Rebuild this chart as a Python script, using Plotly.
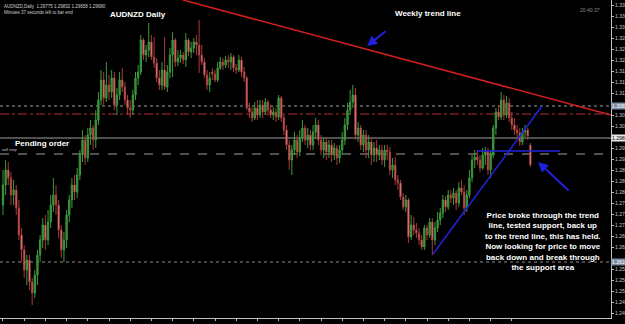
import plotly.graph_objects as go

bar_index = list(range(200))

opens = [1.2785,1.2845,1.2890,1.2866,1.2815,1.2830,1.2776,1.2695,1.2650,1.2590,
1.2620,1.2554,1.2521,1.2575,1.2635,1.2680,1.2725,1.2680,1.2734,1.2785,
1.2815,1.2785,1.2710,1.2650,1.2680,1.2755,1.2800,1.2845,1.2824,1.2875,
1.2935,1.2980,1.2926,1.2995,1.3016,1.2980,1.3040,1.3100,1.3160,1.3106,
1.3145,1.3124,1.3166,1.3085,1.3115,1.3160,1.3139,1.3100,1.3076,1.3070,
1.3115,1.3166,1.3184,1.3280,1.3235,1.3250,1.3274,1.3229,1.3211,1.3166,
1.3145,1.3190,1.3139,1.3184,1.3235,1.3280,1.3214,1.3226,1.3235,1.3220,
1.3280,1.3244,1.3256,1.3274,1.3265,1.3235,1.3214,1.3175,1.3145,1.3184,
1.3178,1.3160,1.3196,1.3214,1.3205,1.3220,1.3214,1.3229,1.3196,1.3190,
1.3220,1.3184,1.3166,1.3076,1.3064,1.3046,1.3076,1.3055,1.3085,1.3064,
1.3094,1.3070,1.3055,1.3064,1.3049,1.3106,1.3046,1.3010,1.2965,1.2920,
1.2950,1.2980,1.2944,1.2986,1.3016,1.2980,1.2995,1.2965,1.3004,1.3025,
1.2980,1.2950,1.2974,1.2944,1.2965,1.2935,1.2956,1.2926,1.2950,1.2980,
1.3025,1.3070,1.3094,1.3115,1.2995,1.3016,1.2965,1.2995,1.2950,1.2974,
1.2935,1.2956,1.2935,1.2950,1.2920,1.2950,1.2944,1.2890,1.2905,1.2860,
1.2851,1.2809,1.2779,1.2800,1.2689,1.2725,1.2710,1.2701,1.2680,1.2659,
1.2716,1.2695,1.2734,1.2680,1.2716,1.2740,1.2761,1.2800,1.2779,1.2815,
1.2806,1.2821,1.2791,1.2836,1.2824,1.2776,1.2815,1.2866,1.2920,1.2929,
1.2920,1.2896,1.2935,1.2944,1.2890,1.2935,1.3016,1.3064,1.3049,1.3100,
1.3055,1.3091,1.3046,1.3025,1.3010,1.3001,1.2974,1.3004,1.3010,1.2965]

highs = [1.2890,1.2920,1.2914,1.2884,1.2860,1.2845,1.2800,1.2716,1.2665,1.2635,
1.2635,1.2566,1.2590,1.2650,1.2695,1.2746,1.2755,1.2770,1.2815,1.2866,
1.2845,1.2800,1.2725,1.2704,1.2770,1.2815,1.2866,1.2875,1.2896,1.2950,
1.3010,1.2995,1.3016,1.3040,1.3025,1.3070,1.3124,1.3190,1.3184,1.3214,
1.3175,1.3190,1.3184,1.3136,1.3184,1.3196,1.3154,1.3115,1.3100,1.3130,
1.3184,1.3205,1.3295,1.3286,1.3265,1.3331,1.3295,1.3289,1.3226,1.3190,
1.3214,1.3289,1.3205,1.3256,1.3304,1.3286,1.3250,1.3250,1.3244,1.3301,
1.3286,1.3274,1.3286,1.3295,1.3340,1.3265,1.3226,1.3190,1.3184,1.3196,
1.3190,1.3214,1.3229,1.3226,1.3232,1.3235,1.3241,1.3235,1.3208,1.3235,
1.3229,1.3199,1.3172,1.3091,1.3079,1.3094,1.3100,1.3100,1.3100,1.3106,
1.3100,1.3085,1.3079,1.3076,1.3115,1.3112,1.3055,1.3025,1.2980,1.2965,
1.3004,1.2995,1.3010,1.3040,1.3025,1.3016,1.3010,1.3025,1.3046,1.3040,
1.2995,1.2986,1.2986,1.2980,1.2980,1.2971,1.2965,1.2965,1.3004,1.3046,
1.3091,1.3130,1.3145,1.3136,1.3034,1.3025,1.3010,1.3010,1.2995,1.2986,
1.2974,1.2980,1.2965,1.2965,1.2965,1.2965,1.2959,1.2926,1.2929,1.2875,
1.2860,1.2821,1.2815,1.2806,1.2755,1.2749,1.2731,1.2716,1.2695,1.2725,
1.2725,1.2746,1.2746,1.2734,1.2764,1.2776,1.2815,1.2812,1.2830,1.2830,
1.2836,1.2830,1.2854,1.2860,1.2845,1.2830,1.2890,1.2935,1.2950,1.2950,
1.2935,1.2956,1.2959,1.2956,1.2950,1.3025,1.3076,1.3085,1.3124,1.3115,
1.3112,1.3106,1.3064,1.3046,1.3025,1.3016,1.3016,1.3025,1.3016,1.2971]

lows = [1.2755,1.2815,1.2845,1.2785,1.2785,1.2755,1.2680,1.2614,1.2566,1.2545,
1.2530,1.2485,1.2506,1.2545,1.2614,1.2656,1.2650,1.2665,1.2716,1.2764,
1.2755,1.2686,1.2626,1.2614,1.2656,1.2734,1.2776,1.2800,1.2806,1.2860,
1.2914,1.2905,1.2914,1.2965,1.2950,1.2956,1.3025,1.3085,1.3085,1.3094,
1.3100,1.3106,1.3070,1.3055,1.3100,1.3124,1.3085,1.3055,1.3046,1.3055,
1.3100,1.3145,1.3175,1.3220,1.3214,1.3229,1.3220,1.3196,1.3154,1.3130,
1.3130,1.3130,1.3124,1.3166,1.3169,1.3199,1.3202,1.3211,1.3208,1.3199,
1.3232,1.3226,1.3241,1.3235,1.3181,1.3205,1.3166,1.3130,1.3124,1.3160,
1.3154,1.3154,1.3190,1.3190,1.3196,1.3196,1.3190,1.3184,1.3178,1.3184,
1.3169,1.3154,1.3070,1.3046,1.3034,1.3040,1.3040,1.3046,1.3046,1.3055,
1.3052,1.3046,1.3040,1.3034,1.3040,1.3034,1.2995,1.2950,1.2890,1.2875,
1.2935,1.2926,1.2932,1.2974,1.2965,1.2956,1.2950,1.2950,1.2986,1.2965,
1.2935,1.2926,1.2920,1.2926,1.2914,1.2920,1.2905,1.2911,1.2935,1.2965,
1.3010,1.3055,1.3076,1.2980,1.2974,1.2950,1.2944,1.2926,1.2926,1.2905,
1.2914,1.2914,1.2920,1.2905,1.2899,1.2920,1.2875,1.2866,1.2845,1.2830,
1.2800,1.2770,1.2764,1.2671,1.2680,1.2695,1.2686,1.2665,1.2650,1.2650,
1.2680,1.2686,1.2635,1.2665,1.2704,1.2725,1.2746,1.2764,1.2770,1.2791,
1.2785,1.2770,1.2779,1.2815,1.2755,1.2764,1.2806,1.2854,1.2896,1.2905,
1.2884,1.2890,1.2905,1.2875,1.2866,1.2926,1.2995,1.3040,1.3040,1.3040,
1.3046,1.3034,1.3010,1.2995,1.2980,1.2962,1.2965,1.2989,1.2980,1.2899]

closes = [1.2845,1.2890,1.2866,1.2815,1.2830,1.2776,1.2695,1.2650,1.2590,1.2620,
1.2554,1.2521,1.2575,1.2635,1.2680,1.2725,1.2680,1.2734,1.2785,1.2815,
1.2785,1.2710,1.2650,1.2680,1.2755,1.2800,1.2845,1.2824,1.2875,1.2935,
1.2980,1.2926,1.2995,1.3016,1.2980,1.3040,1.3100,1.3160,1.3106,1.3145,
1.3124,1.3166,1.3085,1.3115,1.3160,1.3139,1.3100,1.3076,1.3070,1.3115,
1.3166,1.3184,1.3280,1.3235,1.3250,1.3274,1.3229,1.3211,1.3166,1.3145,
1.3190,1.3139,1.3184,1.3235,1.3280,1.3214,1.3226,1.3235,1.3220,1.3280,
1.3244,1.3256,1.3274,1.3265,1.3235,1.3214,1.3175,1.3145,1.3166,1.3178,
1.3160,1.3196,1.3214,1.3205,1.3220,1.3214,1.3229,1.3196,1.3190,1.3220,
1.3184,1.3166,1.3076,1.3064,1.3046,1.3076,1.3055,1.3085,1.3064,1.3094,
1.3070,1.3055,1.3064,1.3049,1.3106,1.3046,1.3010,1.2965,1.2920,1.2950,
1.2980,1.2944,1.2986,1.3016,1.2980,1.2995,1.2965,1.3004,1.3025,1.2980,
1.2950,1.2974,1.2944,1.2965,1.2935,1.2956,1.2926,1.2950,1.2980,1.3025,
1.3070,1.3094,1.3115,1.2995,1.3016,1.2965,1.2995,1.2950,1.2974,1.2935,
1.2956,1.2935,1.2950,1.2920,1.2950,1.2944,1.2890,1.2905,1.2860,1.2851,
1.2809,1.2779,1.2800,1.2689,1.2725,1.2710,1.2701,1.2680,1.2659,1.2716,
1.2695,1.2734,1.2680,1.2716,1.2740,1.2761,1.2800,1.2779,1.2815,1.2806,
1.2821,1.2791,1.2836,1.2824,1.2776,1.2815,1.2866,1.2920,1.2929,1.2920,
1.2896,1.2935,1.2944,1.2890,1.2935,1.3016,1.3064,1.3049,1.3100,1.3055,
1.3091,1.3046,1.3025,1.3010,1.3001,1.2974,1.3004,1.3010,1.2992,1.2905]

date_tick_index = [0, 8, 16, 24, 32, 40, 48, 56, 64, 72, 80, 88, 96, 104, 112, 120,
                   128, 136, 144, 152, 160, 168, 176, 184, 192]
date_tick_labels = ["2 Sep 2011", "14 Sep 2011", "26 Sep 2011", "6 Oct 2011", "18 Oct 2011",
                    "28 Oct 2011", "9 Nov 2011", "21 Nov 2011", "1 Dec 2011", "13 Dec 2011",
                    "23 Dec 2011", "4 Jan 2012", "16 Jan 2012", "26 Jan 2012", "7 Feb 2012",
                    "17 Feb 2012", "29 Feb 2012", "12 Mar 2012", "22 Mar 2012", "3 Apr 2012",
                    "13 Apr 2012", "25 Apr 2012", "7 May 2012", "17 May 2012", "29 May 2012"]

price_ticks = [1.3385, 1.3352, 1.3319, 1.3286, 1.3253, 1.3220, 1.3187, 1.3154, 1.3121,
               1.3055, 1.3022, 1.2956, 1.2923, 1.2890, 1.2857, 1.2824, 1.2791, 1.2758,
               1.2725, 1.2692, 1.2659, 1.2593, 1.2560, 1.2527, 1.2494, 1.2461]

# chart objects (time index, price)
weekly_trend = [(67.9, 1.3400), (229.4, 1.3055)]
support_trend = [(162.3, 1.2638), (203.4, 1.3082)]
support_level = [(178.9, 1.2947), (210.2, 1.2947)]
level_dotted_top = 1.3082
level_red = 1.3058
level_pending = 1.2986
level_sellstop = 1.2938
level_dotted_low = 1.2614

x_range = [-1.13, 229.43]
y_range = [1.2446, 1.3400]

fig = go.Figure()
fig.add_trace(go.Candlestick(
    x=bar_index, open=opens, high=highs, low=lows, close=closes,
    increasing=dict(line=dict(color="#3c9a3c", width=1), fillcolor="#2f8a2f"),
    decreasing=dict(line=dict(color="#a83838", width=1), fillcolor="#f4cccc"),
    whiskerwidth=0, showlegend=False, hoverinfo="skip"))

shapes = []
def hline(y, color, dash, width=1):
    shapes.append(dict(type="line", xref="paper", x0=0, x1=1, yref="y", y0=y, y1=y,
                       line=dict(color=color, width=width, dash=dash), layer="below"))
hline(level_dotted_top, "#9a9a9a", "dot")
hline(level_red, "#b03030", "dashdot")
hline(level_pending, "#a0a0a0", "solid")
hline(level_sellstop, "#a0a0a0", "dash")
hline(level_dotted_low, "#8a8a8a", "dot")

for pts, col, w in [(weekly_trend, "#d21f1f", 1.5), (support_trend, "#2222dd", 1.5),
                    (support_level, "#2222dd", 1.5)]:
    shapes.append(dict(type="line", xref="x", yref="y", x0=pts[0][0], y0=pts[0][1],
                       x1=pts[1][0], y1=pts[1][1], line=dict(color=col, width=w)))

font_b = dict(family="Liberation Sans, Arial", size=8, color="white")
annotations = [
    dict(x=39.6, y=1.3356, xref="x", yref="y", text="<b>AUDNZD Daily</b>", showarrow=False,
         xanchor="left", yanchor="middle", font=font_b),
    dict(x=147.2, y=1.3361, xref="x", yref="y", text="<b>Weekly trend line</b>", showarrow=False,
         xanchor="left", yanchor="middle", font=font_b),
    dict(x=3.8, y=1.2970, xref="x", yref="y", text="<b>Pending order</b>", showarrow=False,
         xanchor="left", yanchor="middle", font=font_b),
    dict(x=203.6, y=1.26755, xref="x", yref="y", showarrow=False, xanchor="center", yanchor="middle",
         align="center",
         text="<b>Price broke through the trend<br>line, tested support, back up<br>to the trend line, this has held."
              "<br>Now looking for price to move<br>back down and break through<br>the support area</b>",
         font=dict(family="Liberation Sans, Arial", size=8, color="white")),
    # arrows
    dict(x=137.4, y=1.3262, xref="x", yref="y", ax=144.9, ay=1.3310, axref="x", ayref="y",
         showarrow=True, arrowhead=2, arrowsize=1, arrowwidth=2, arrowcolor="#2020e0", text=""),
    dict(x=201.9, y=1.2914, xref="x", yref="y", ax=214.0, ay=1.2824, axref="x", ayref="y",
         showarrow=True, arrowhead=2, arrowsize=1, arrowwidth=2, arrowcolor="#2020e0", text=""),
    # small texts
    dict(x=0.003, y=0.995, xref="paper", yref="paper", xanchor="left", yanchor="top", showarrow=False,
         align="left", text="AUDNZD,Daily  1.29775 1.29832 1.29658 1.29680<br>Minutes 37 seconds left to bar end",
         font=dict(family="Liberation Sans, Arial", size=4.5, color="#d0d0d0")),
    dict(x=0.0, y=level_sellstop, xref="paper", yref="y", xanchor="left", yanchor="bottom", showarrow=False,
         text="sell stop", font=dict(family="Liberation Sans, Arial", size=4, color="#c0c0c0")),
    dict(x=0.965, y=0.97, xref="paper", yref="paper", xanchor="center", yanchor="middle", showarrow=False,
         text="20:40:37", font=dict(family="Liberation Sans, Arial", size=5, color="#909090")),
]
for lvl, bg, fc in [(level_dotted_top, "#7d8da0", "white"), (level_pending, "#e8e8e8", "black"),
                    (level_dotted_low, "#7d8da0", "white")]:
    annotations.append(dict(x=1.0, y=lvl, xref="paper", yref="y", xanchor="left", yanchor="middle",
                            showarrow=False, text=f"{lvl:.5f}", bgcolor=bg, borderpad=0,
                            font=dict(family="Liberation Sans, Arial", size=5, color=fc)))

fig.update_layout(
    width=625, height=324, autosize=False,
    margin=dict(l=0, r=14, t=0, b=6, autoexpand=False),
    paper_bgcolor="black", plot_bgcolor="black",
    shapes=shapes, annotations=annotations, showlegend=False,
    xaxis=dict(range=x_range, rangeslider=dict(visible=False), showgrid=False, zeroline=False,
               automargin=False,
               tickmode="array", tickvals=date_tick_index, ticktext=date_tick_labels,
               ticks="outside", ticklen=2, tickcolor="#c0c0c0", ticklabelshift=14,
               tickfont=dict(family="Liberation Sans, Arial", size=5, color="#c8c8c8"),
               showline=True, linecolor="#c0c0c0", linewidth=1),
    yaxis=dict(range=y_range, side="right", showgrid=False, zeroline=False,
               automargin=False,
               tickmode="array", tickvals=price_ticks, ticktext=[f"{v:.5f}" for v in price_ticks],
               ticks="outside", ticklen=2, tickcolor="#c0c0c0",
               tickfont=dict(family="Liberation Sans, Arial", size=5, color="#c8c8c8"),
               showline=True, linecolor="#c0c0c0", linewidth=1),
)

fig.write_html("out.html")
